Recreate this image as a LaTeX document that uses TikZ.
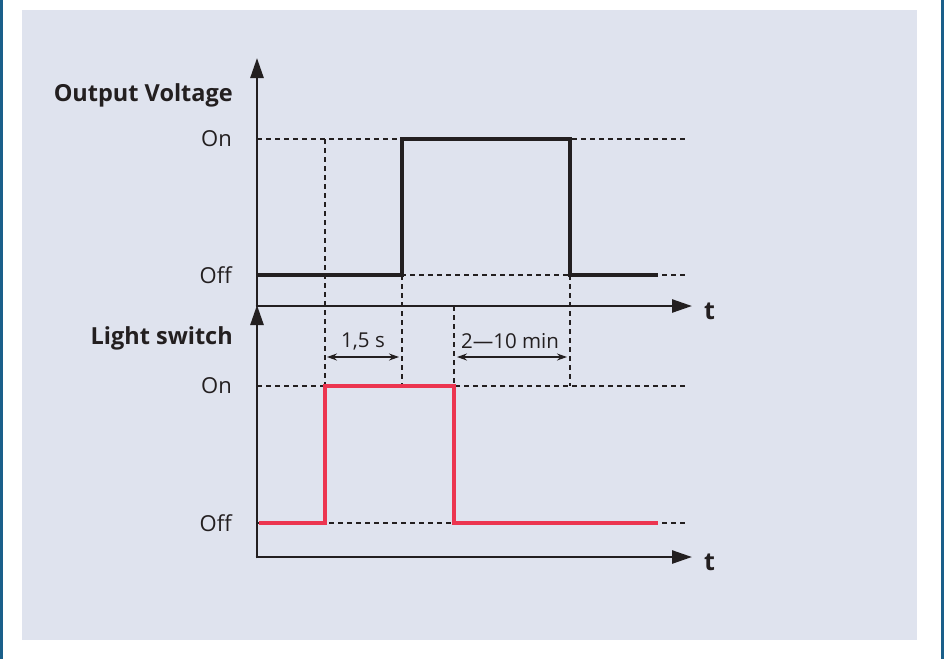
\documentclass[tikz,border=0pt]{standalone}
\usepackage{fontspec}
\setmainfont{Open Sans}
\usetikzlibrary{arrows.meta}
\definecolor{panel}{HTML}{DFE3EE}
\definecolor{frameblue}{HTML}{1A5F8A}
\definecolor{ink}{HTML}{231F20}
\definecolor{sigred}{HTML}{EC3550}
\tikzset{
  axis/.style={draw=ink, line width=2.6pt, -{Triangle[length=20pt,width=13pt]}},
  guide/.style={draw=ink, line width=1.1pt, dash pattern=on 5pt off 4pt},
  sigblack/.style={draw=ink, line width=3.6pt, line join=miter},
  sigredl/.style={draw=sigred, line width=4.6pt, line join=miter},
  dim/.style={draw=ink, line width=1.2pt, {Stealth[length=10pt,width=7pt]}-{Stealth[length=10pt,width=7pt]}},
  lvl/.style={anchor=east, font=\fontsize{22}{26}\selectfont, text=ink, inner sep=0pt},
  title/.style={anchor=east, font=\bfseries\fontsize{23.5}{28}\selectfont, text=ink, inner sep=0pt},
  tlab/.style={anchor=west, font=\bfseries\fontsize{25}{28}\selectfont, text=ink, inner sep=0pt},
  dimlab/.style={font=\fontsize{20.5}{24}\selectfont, text=ink, inner sep=0pt},
}
\begin{document}
\begin{tikzpicture}[x=1pt,y=-1pt]
\useasboundingbox (0,0) rectangle (944,659);
\fill[white] (0,0) rectangle (944,659);
\fill[frameblue] (0,0) rectangle (2.5,659);
\fill[frameblue] (940.5,0) rectangle (944,659);
\fill[panel] (22,10) rectangle (917,640);

% named coordinates
\coordinate (O1) at (257,306);
\coordinate (Y1) at (257,58);
\coordinate (X1) at (692,306);
\coordinate (O2) at (257,557);
\coordinate (Y2) at (257,305);
\coordinate (X2) at (692,557);

% guides upper
\draw[guide] (257,139) -- (688,139);
\draw[guide] (257,275) -- (688,275);
% guides lower
\draw[guide] (257,386) -- (688,386);
\draw[guide] (257,523) -- (688,523);
% vertical guides
\draw[guide] (325,139) -- (325,523);
\draw[guide] (402,275) -- (402,386);
\draw[guide] (454,306) -- (454,523);
\draw[guide] (570,275) -- (570,386);

% signals
\draw[sigblack] (258,275) -- (402,275) -- (402,139) -- (570,139) -- (570,275) -- (658,275);
\draw[sigredl] (259,523) -- (325,523) -- (325,386) -- (454,386) -- (454,523) -- (658,523);

% axes
\draw[axis] (257,307.3) -- (Y1);
\draw[axis] (255.7,306) -- (X1);
\draw[axis] (257,558.3) -- (Y2);
\draw[axis] (255.7,557) -- (X2);

% labels
\node[title] (ov) at (233,95) {Output Voltage};
\node[lvl] (on1) at (232,139) {On};
\node[lvl] (off1) at (232,275) {Off};
\node[title] (ls) at (233,338) {Light switch};
\node[lvl] (on2) at (232,386) {On};
\node[lvl] (off2) at (232,523) {Off};
\node[tlab] (t1) at (704,311) {t};
\node[tlab] (t2) at (704,562) {t};

% dimensions
\coordinate (d1a) at (327,357);
\coordinate (d1b) at (399,357);
\coordinate (d2a) at (457,357);
\coordinate (d2b) at (567,357);
\draw[dim] (d1a) -- (d1b);
\draw[dim] (d2a) -- (d2b);
\node[dimlab] (l1) at (363,341) {1,5 s};
\node[dimlab] (l2) at (510,341) {2—10 min};
\end{tikzpicture}
\end{document}
